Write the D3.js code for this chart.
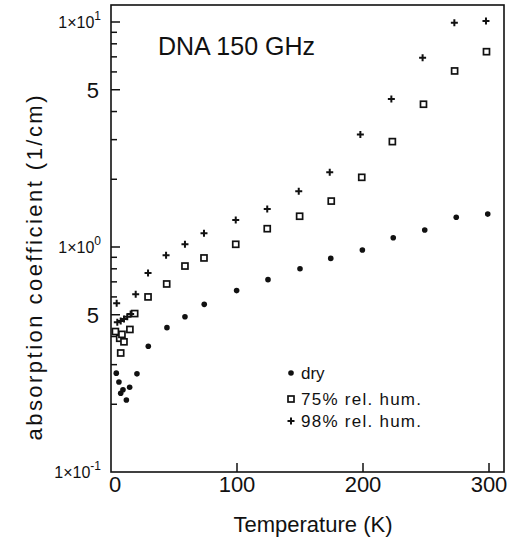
<!DOCTYPE html>
<html>
<head>
<meta charset="utf-8">
<script src="https://cdn.jsdelivr.net/npm/d3@7"></script>
<style>
  html, body { margin: 0; padding: 0; background: #fff; }
  svg { display: block; }
  text { font-family: "Liberation Sans", Arial, sans-serif; fill: #111; }
</style>
</head>
<body>
<svg id="chart" width="507" height="543"></svg>
<script>
// ---- data ----
const dryT   = [4.2, 6.3, 7.7, 9.5, 12.2, 14.8, 20.6, 29.6, 44.4, 58.7, 74, 99.7, 124.6, 150, 174.4, 199.5, 224, 249, 274, 299];
const dryK   = [0.275, 0.251, 0.224, 0.232, 0.209, 0.238, 0.273, 0.362, 0.438, 0.49, 0.556, 0.64, 0.716, 0.80, 0.89, 0.97, 1.10, 1.19, 1.355, 1.40];

const hum75T = [3.5, 6.9, 8.7, 10.3, 7.7, 15, 18.8, 29.4, 44.2, 58.7, 73.8, 99, 124, 149.7, 174.8, 199, 223.3, 248, 272.7, 298];
const hum75K = [0.421, 0.393, 0.409, 0.379, 0.338, 0.43, 0.506, 0.60, 0.685, 0.823, 0.894, 1.028, 1.206, 1.37, 1.60, 2.04, 2.94, 4.31, 6.06, 7.38];

const hum98T = [4.5, 5, 7.7, 10.3, 12.9, 15.6, 19.6, 29.4, 43.7, 58.7, 73.8, 99, 124, 149, 173.6, 197.9, 222.5, 247.3, 272.5, 297.6];
const hum98K = [0.562, 0.463, 0.469, 0.479, 0.49, 0.504, 0.616, 0.766, 0.919, 1.028, 1.15, 1.318, 1.475, 1.77, 2.15, 3.16, 4.55, 6.94, 9.93, 10.1];

const xTickValues = [0, 100, 200, 300];
const xTickLabels = ["0", "100", "200", "300"];
const yDecades = [0.1, 1, 10];
const yDecadeExp = ["-1", "0", "1"];
const yFiveValues = [0.5, 5];
const legendLabels = ["dry", "75% rel. hum.", "98% rel. hum."];

// ---- layout ----
const svg = d3.select("#chart");
const L = 111, R = 504, T = 5, B = 472;
const x = d3.scaleLinear().domain([0, 311.9]).range([L, R]);
const y = d3.scaleLog().domain([0.1, Math.pow(10, 1 + 17/225)]).range([B, T]);

// frame
svg.append("rect").attr("x", L).attr("y", T).attr("width", R - L).attr("height", B - T)
  .attr("fill", "none").attr("stroke", "#111").attr("stroke-width", 1.6);

// y ticks (inside, pointing right)
const yMinor = [];
[0.1, 1].forEach(d => { for (let k = 2; k <= 9; k++) yMinor.push(d * k); });
svg.append("g").selectAll("line").data(yMinor.concat([1, 10])).join("line")
  .attr("x1", L).attr("x2", d => L + ((d === 1 || d === 10 || d === 0.5 || d === 5) ? 9 : 6))
  .attr("y1", d => y(d)).attr("y2", d => y(d))
  .attr("stroke", "#111").attr("stroke-width", 1.5);

// x ticks (inside, pointing up)
svg.append("g").selectAll("line").data(xTickValues.slice(1)).join("line")
  .attr("x1", d => x(d)).attr("x2", d => x(d))
  .attr("y1", B).attr("y2", B - 9)
  .attr("stroke", "#111").attr("stroke-width", 1.5);

// x tick labels
svg.append("g").selectAll("text").data(xTickValues).join("text")
  .attr("x", (d, i) => x(d) + (i === 0 ? 4 : 0)).attr("y", 492)
  .attr("text-anchor", "middle").attr("font-size", 22)
  .text((d, i) => xTickLabels[i]);

// y decade labels 1x10^n
yDecades.forEach((d, i) => {
  const t = svg.append("text").attr("x", 101).attr("y", y(d) + 6)
    .attr("text-anchor", "end").attr("font-size", 16);
  t.append("tspan").text("1\u00d710");
  t.append("tspan").attr("dy", -8).attr("font-size", 12).text(yDecadeExp[i]);
});
// y "5" labels
svg.append("g").selectAll("text").data(yFiveValues).join("text")
  .attr("x", 99).attr("y", d => y(d) + 8)
  .attr("text-anchor", "end").attr("font-size", 22).text("5");

// axis titles
svg.append("text").attr("x", 313).attr("y", 532).attr("text-anchor", "middle")
  .attr("font-size", 22).text("Temperature (K)");
svg.append("text").attr("transform", "translate(42,268) rotate(-90)")
  .attr("text-anchor", "middle").attr("font-size", 22)
  .attr("textLength", 345).attr("lengthAdjust", "spacing")
  .text("absorption coefficient (1/cm)");

// title
svg.append("text").attr("x", 158).attr("y", 55).attr("font-size", 25).text("DNA 150 GHz");

// markers
function drawDot(g, cx, cy) {
  g.append("circle").attr("cx", cx).attr("cy", cy).attr("r", 2.8).attr("fill", "#111");
}
function drawSquare(g, cx, cy) {
  g.append("rect").attr("x", cx - 3).attr("y", cy - 3).attr("width", 6).attr("height", 6)
    .attr("fill", "#fff").attr("stroke", "#111").attr("stroke-width", 1.7);
}
function drawPlus(g, cx, cy) {
  g.append("path").attr("d", `M${cx-3.5},${cy}H${cx+3.5}M${cx},${cy-3.5}V${cy+3.5}`)
    .attr("stroke", "#111").attr("stroke-width", 2);
}
const gp = svg.append("g");
dryT.forEach((t, i) => drawDot(gp, x(t), y(dryK[i])));
hum75T.forEach((t, i) => drawSquare(gp, x(t), y(hum75K[i])));
hum98T.forEach((t, i) => drawPlus(gp, x(t), y(hum98K[i])));

// legend
const lg = svg.append("g");
const legY = [373, 399, 421];
const legW = [null, 120, 120];
const drawers = [drawDot, drawSquare, drawPlus];
legendLabels.forEach((lab, i) => {
  drawers[i](lg, 291, legY[i]);
  const t = lg.append("text").attr("x", 301).attr("y", legY[i] + 6).attr("font-size", 17).text(lab);
  if (legW[i]) t.attr("textLength", legW[i]).attr("lengthAdjust", "spacing");
});
</script>
</body>
</html>
